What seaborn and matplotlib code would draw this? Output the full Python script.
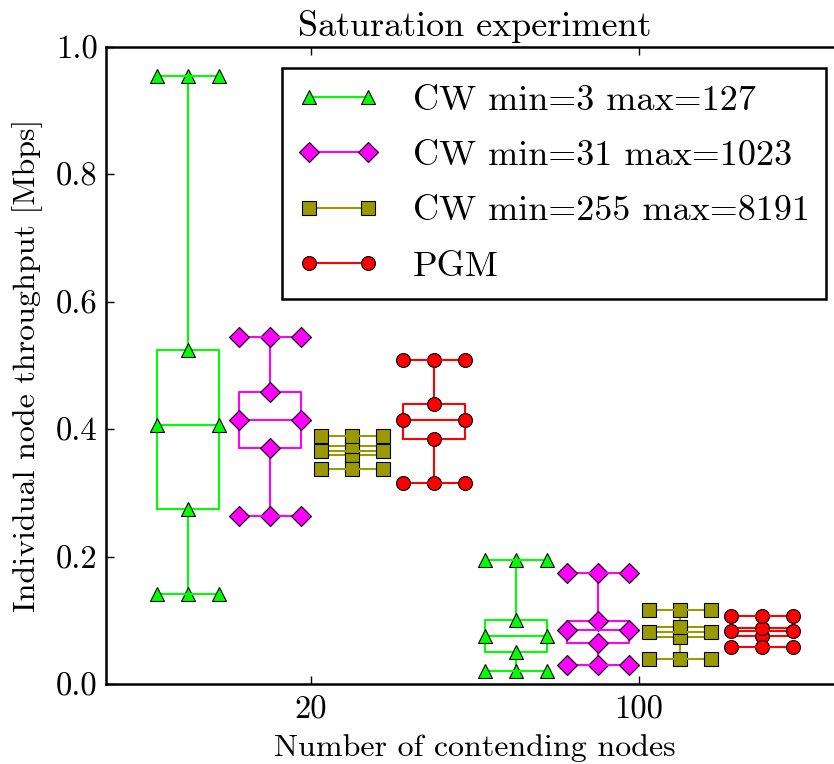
import numpy as np
import pandas as pd
import matplotlib
matplotlib.use("Agg")
import matplotlib.pyplot as plt
from matplotlib.lines import Line2D
import seaborn as sns

# ---------------- data ----------------
nodes = ["20", "100"]
schemes = ["CW min=3 max=127", "CW min=31 max=1023", "CW min=255 max=8191", "PGM"]

# five-number summaries per box: [min, q1, median, q3, max]  (Mbps)
cw3_n20 = [0.141, 0.275, 0.406, 0.525, 0.955]
cw3_n100 = [0.021, 0.050, 0.076, 0.101, 0.194]
cw31_n20 = [0.263, 0.370, 0.414, 0.459, 0.544]
cw31_n100 = [0.030, 0.064, 0.085, 0.099, 0.174]
cw255_n20 = [0.338, 0.359, 0.366, 0.373, 0.389]
cw255_n100 = [0.040, 0.073, 0.082, 0.090, 0.116]
pgm_n20 = [0.316, 0.384, 0.414, 0.439, 0.509]
pgm_n100 = [0.058, 0.076, 0.083, 0.088, 0.106]

colors = ["#00ff00", "#ff00ff", "#999900", "#ff0000"]
markers = ["^", "D", "s", "o"]

series = {
    schemes[0]: (cw3_n20, cw3_n100),
    schemes[1]: (cw31_n20, cw31_n100),
    schemes[2]: (cw255_n20, cw255_n100),
    schemes[3]: (pgm_n20, pgm_n100),
}
rows = []
for s in schemes:
    for n, vals in zip(nodes, series[s]):
        for v in vals:
            rows.append({"nodes": n, "scheme": s, "thr": v})
df = pd.DataFrame(rows)

# ---------------- style ----------------
plt.rcParams["font.family"] = ["cmr10", "DejaVu Serif"]
plt.rcParams["mathtext.fontset"] = "cm"
plt.rcParams["axes.unicode_minus"] = False

fig = plt.figure(figsize=(8.34, 7.64), dpi=100)
ax = fig.add_axes([106 / 834, 80 / 764, 738 / 834, 637 / 764])

sns.boxplot(data=df, x="nodes", y="thr", hue="scheme", order=nodes,
            hue_order=schemes, palette=colors, fill=False, width=1.0,
            gap=0.25, whis=(0, 100), linewidth=1.5, showfliers=False,
            legend=False, ax=ax)

conts = [c for c in ax.containers if hasattr(c, "boxes")]
for i, c in enumerate(conts):
    col, mk = colors[i], markers[i]
    for j, cap in enumerate(c.caps):
        box = c.boxes[j // 2]
        if hasattr(box, "get_xdata"):
            bx = np.asarray(box.get_xdata(), dtype=float)
        else:
            bx = box.get_path().vertices[:, 0]
        cap.set_xdata([bx.min(), bx.max()])
    for ln in list(c.whiskers) + list(c.caps) + list(c.medians):
        ln.set_marker(mk)
        ln.set_markersize(10)
        ln.set_markerfacecolor(col)
        ln.set_markeredgecolor("black")
        ln.set_markeredgewidth(0.8)
        ln.set_color(col)
        ln.set_linewidth(1.5)
        ln.set_clip_on(False)
    for b in c.boxes:
        b.set_linewidth(1.5)

ax.set_xlim(-0.625, 1.625)
ax.set_ylim(0, 1.0)
ax.set_yticks([0.0, 0.2, 0.4, 0.6, 0.8, 1.0])
ax.set_yticklabels(["0.0", "0.2", "0.4", "0.6", "0.8", "1.0"])

ax.set_title("Saturation experiment", fontsize=26, pad=8)
ax.set_xlabel("Number of contending nodes", fontsize=23, labelpad=7)
ax.set_ylabel("Individual node throughput [Mbps]", fontsize=23, labelpad=9)

ax.tick_params(axis="both", direction="in", length=6, width=1,
               top=True, right=True, labelsize=23.5)
ax.tick_params(axis="x", pad=8)
ax.tick_params(axis="y", pad=6)
for sp in ax.spines.values():
    sp.set_linewidth(1.8)
    sp.set_color("black")

handles = [Line2D([0], [0], color=c, lw=1.5, marker=m, markersize=10,
                  markerfacecolor=c, markeredgecolor="black",
                  markeredgewidth=0.8) for c, m in zip(colors, markers)]
leg = ax.legend(handles, schemes, loc="upper right",
                bbox_to_anchor=(0.9756, 0.967), borderaxespad=0,
                numpoints=2, fontsize=26, fancybox=False, framealpha=1,
                edgecolor="black", handlelength=2.23, handletextpad=0.95,
                labelspacing=0.64, borderpad=0.45)
leg.get_frame().set_linewidth(1.8)

fig.savefig("out.png", dpi=100)
